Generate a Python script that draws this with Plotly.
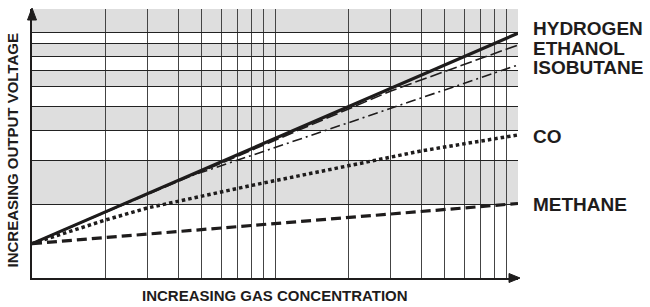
import math
import plotly.graph_objects as go

# ---- data ----
series_names = ["HYDROGEN", "ETHANOL", "ISOBUTANE", "CO", "METHANE"]
hydrogen_x = [1, 100]
hydrogen_y = [1.38, 9.9]
ethanol_x = [1, 10, 30, 100]
ethanol_y = [1.38, 3.64, 5.77, 8.87]
isobutane_x = [1, 4, 20, 100]
isobutane_y = [1.38, 2.50, 4.28, 7.36]
co_x = [1, 2, 3, 8, 20, 40, 100]
co_y = [1.38, 1.72, 1.93, 2.38, 2.86, 3.29, 3.82]
methane_x = [1, 100]
methane_y = [1.38, 2.01]

x_grid = [1, 2, 3, 4, 5, 6, 7, 8, 9, 10, 20, 30, 40, 50, 60, 70, 80, 90, 100]
y_grid = [1, 2, 3, 4, 5, 6, 7, 8, 9, 10]
shaded_bands = [(2, 3), (4, 5), (6, 7), (8, 9), (10, 12.43)]
x_title = "INCREASING GAS CONCENTRATION"
y_title = "INCREASING OUTPUT VOLTAGE"

# ---- styles ----
FONT = "Arial, Liberation Sans, sans-serif"
INK = "#1e1c1c"
x_max_log = 2.0
y_max_log = math.log10(12.43)

styles = {
    "HYDROGEN": dict(width=3.2, dash="solid"),
    "ETHANOL": dict(width=1.6, dash="12px,4px"),
    "ISOBUTANE": dict(width=1.6, dash="10px,4px,2px,4px"),
    "CO": dict(width=3.5, dash="3.5px,3px"),
    "METHANE": dict(width=3.2, dash="10px,5px"),
}
label_y = {"HYDROGEN": 0.9275, "ETHANOL": 0.853, "ISOBUTANE": 0.7825,
           "CO": 0.526, "METHANE": 0.275}

data = {
    "HYDROGEN": (hydrogen_x, hydrogen_y),
    "ETHANOL": (ethanol_x, ethanol_y),
    "ISOBUTANE": (isobutane_x, isobutane_y),
    "CO": (co_x, co_y),
    "METHANE": (methane_x, methane_y),
}

fig = go.Figure()
for name in series_names:
    xs, ys = data[name]
    st = styles[name]
    fig.add_trace(go.Scatter(x=xs, y=ys, mode="lines", name=name,
                             line=dict(color=INK, width=st["width"], dash=st["dash"]),
                             hoverinfo="skip", showlegend=False))

shapes = []
for lo, hi in shaded_bands:
    shapes.append(dict(type="rect", xref="x", yref="y", x0=1, x1=100, y0=lo, y1=hi,
                       fillcolor="#dedede", line=dict(width=0), layer="below"))

# arrowheads on axes (paper coords; plot area 486 x 269 px)
W, H = 486.0, 269.0
tip_top = 1 + 1 / H
base_top = 1 - 11 / H
shapes.append(dict(type="path", xref="paper", yref="paper",
                   path=f"M {-4.5/W},{base_top} L 0,{tip_top} L {4.5/W},{base_top} Z",
                   fillcolor=INK, line=dict(color=INK, width=1)))
tip_r = 1 + 2 / W
base_r = 1 - 9 / W
shapes.append(dict(type="path", xref="paper", yref="paper",
                   path=f"M {base_r},{-4.5/H} L {tip_r},0 L {base_r},{4.5/H} Z",
                   fillcolor=INK, line=dict(color=INK, width=1)))

annotations = []
for name in series_names:
    annotations.append(dict(text=f"<b>{name}</b>", xref="paper", yref="paper",
                            x=1 + 12.5 / W, y=label_y[name], xanchor="left", yanchor="middle",
                            showarrow=False, font=dict(family=FONT, size=19, color=INK)))
annotations.append(dict(text=f"<b>{x_title}</b>", xref="paper", yref="paper",
                        x=0.5, y=-17 / H, xanchor="center", yanchor="middle",
                        showarrow=False, font=dict(family=FONT, size=15, color=INK)))
annotations.append(dict(text=f"<b>{y_title}</b>", xref="paper", yref="paper",
                        x=-19.5 / W, y=0.472, xanchor="center", yanchor="middle", textangle=-90,
                        showarrow=False, font=dict(family=FONT, size=15, color=INK)))

fig.update_layout(
    width=650, height=307,
    margin=dict(l=32, r=132, t=9, b=29),
    paper_bgcolor="white", plot_bgcolor="white",
    shapes=shapes, annotations=annotations,
    showlegend=False,
)
fig.update_xaxes(type="log", range=[0, x_max_log], tickvals=x_grid, showticklabels=False,
                 ticks="", showgrid=True, gridcolor="#444444", gridwidth=1,
                 showline=True, linecolor=INK, linewidth=2, zeroline=False, fixedrange=True)
fig.update_yaxes(type="log", range=[0, y_max_log], tickvals=y_grid, showticklabels=False,
                 ticks="", showgrid=True, gridcolor="#222222", gridwidth=1,
                 showline=True, linecolor=INK, linewidth=2, zeroline=False, fixedrange=True)

fig.write_html("out.html", config={"displayModeBar": False},
               post_script="document.body.style.margin='0';document.body.style.overflow='hidden';")
